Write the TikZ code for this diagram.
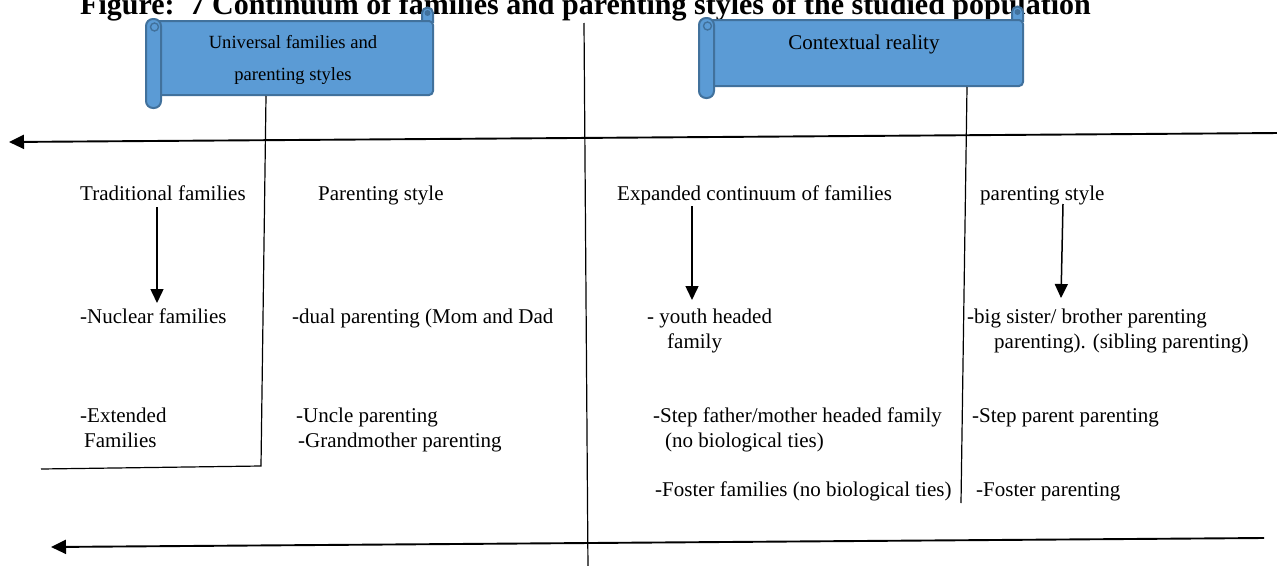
\documentclass[tikz,border=0pt]{standalone}
\usepackage{fontspec}
\setmainfont{Liberation Serif}
\usetikzlibrary{arrows.meta}
\definecolor{scrollfill}{HTML}{5B9BD5}
\definecolor{scrolledge}{HTML}{41719C}

% Horizontal scroll banner: #1 roll left x, #2 body right x, #3 top y,
% #4 body bottom y, #5 roll bottom y
\newcommand\scrollbanner[5]{%
  \filldraw[scrollshape] (#2-11,#3+1) -- (#2-11,#3-8)
     arc[start angle=180,end angle=0,radius=5.5pt] -- (#2,#3+1) -- cycle;
  \fill[scrolledge] (#2-5.5,#3-8) circle[radius=3pt];
  \filldraw[scrollshape,rounded corners=4pt] (#1+4,#3) rectangle (#2,#4);
  \filldraw[scrollshape,rounded corners=7pt] (#1,#3-2) rectangle (#1+15,#5);
  \draw[scrolledge,line width=1.4pt] (#1+8.5,#3+6) circle[radius=4pt];
}

\begin{document}
\begin{tikzpicture}[x=1pt,y=-1pt,
  scrollshape/.style={fill=scrollfill,draw=scrolledge,line width=2pt},
  lbl/.style={anchor=base west,inner sep=0pt,font=\fontsize{21}{25}\selectfont},
  scrolltext/.style={anchor=base,inner sep=0pt,font=\fontsize{18.6}{22}\selectfont},
  axisline/.style={line width=1.9pt,-{Triangle[length=15pt,width=14pt]}},
  link/.style={line width=1.2pt},
  pointer/.style={line width=1.5pt,-{Triangle[length=14pt,width=13pt]}}]
\useasboundingbox (0,0) rectangle (1277,565);
\clip (0,0) rectangle (1277,565);

% title, partly above the page edge
\node[anchor=base west,inner sep=0pt,font=\fontsize{30}{34}\bfseries\selectfont]
  (title) at (80,14) {Figure:\ \ 7 Continuum of families and parenting styles of the studied population};

% the two scroll banners
\scrollbanner{146}{433}{21}{95}{108}
\scrollbanner{699}{1023}{20}{86}{98}
\node[scrolltext] (universal) at (293,48) {Universal families and};
\node[scrolltext] (universal2) at (293,80) {parenting styles};
\node[scrolltext,font=\fontsize{21}{25}\selectfont] (context) at (864,49) {Contextual reality};
\coordinate (uscroll) at (266,96);
\coordinate (cscroll) at (967,87);

% continuum axes
\coordinate (topR) at (1280,133);
\coordinate (topL) at (9,142);
\coordinate (botR) at (1264,538);
\coordinate (botL) at (51,547);
\draw[axisline] (topR) -- (topL);
\draw[axisline] (botR) -- (botL);

% central divider
\coordinate (midT) at (584,23);
\coordinate (midB) at (588,570);
\draw[link] (midT) -- (midB);

% banner leaders
\coordinate (ucorner) at (261,466);
\coordinate (uend) at (41,469);
\draw[link] (uscroll) -- (ucorner) -- (uend);
\coordinate (cend) at (961,503);
\draw[link] (cscroll) -- (cend);

% column headings
\node[lbl] (trad) at (80,200) {Traditional families};
\node[lbl] (pstyle) at (318,200) {Parenting style};
\node[lbl] (expanded) at (617,200) {Expanded continuum of families};
\node[lbl] (pstyle2) at (980,200) {parenting style};

% first row
\node[lbl] (nuclear) at (80,323) {-Nuclear families};
\node[lbl] (dual) at (292,323) {-dual parenting (Mom and Dad};
\node[lbl] (youth) at (647,323) {- youth headed};
\node[lbl] (youth2) at (667,348) {family};
\node[lbl] (sibling) at (967,323) {-big sister/ brother parenting};
\node[lbl] (sibling2) at (994,348) {parenting). (sibling parenting)};

% second row
\node[lbl] (extended) at (80,422) {-Extended};
\node[lbl] (extended2) at (84,447) {Families};
\node[lbl] (uncle) at (296,422) {-Uncle parenting};
\node[lbl] (grandma) at (298,447) {-Grandmother parenting};
\node[lbl] (stepfam) at (653,422) {-Step father/mother headed family};
\node[lbl] (stepfam2) at (665,447) {(no biological ties)};
\node[lbl] (steppar) at (972,422) {-Step parent parenting};

% third row
\node[lbl] (fosterfam) at (655,496) {-Foster families (no biological ties)};
\node[lbl] (fosterpar) at (976,496) {-Foster parenting};

% downward pointers
\coordinate (p1a) at (157,207);
\coordinate (p1b) at (157,303);
\coordinate (p2a) at (692,206);
\coordinate (p2b) at (692,300);
\coordinate (p3a) at (1063,204);
\coordinate (p3b) at (1061,298);
\draw[pointer] (p1a) -- (p1b);
\draw[pointer] (p2a) -- (p2b);
\draw[pointer] (p3a) -- (p3b);
\end{tikzpicture}
\end{document}
